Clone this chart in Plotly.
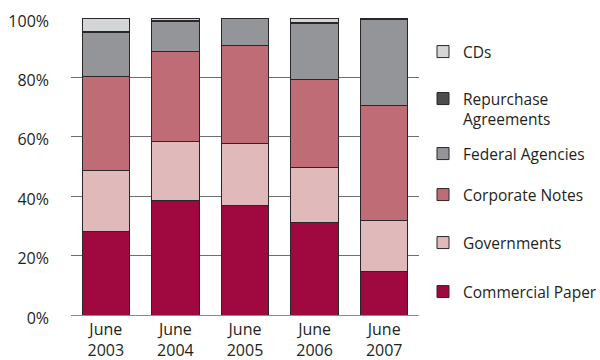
import plotly.graph_objects as go

# Portfolio composition by fiscal year-end (percent of total)
periods = ["June<br>2003", "June<br>2004", "June<br>2005", "June<br>2006", "June<br>2007"]

commercial_paper = [28.2, 38.4, 36.9, 31.2, 14.8]
governments = [20.5, 20.0, 20.9, 18.5, 17.0]
corporate_notes = [31.7, 30.2, 32.9, 29.7, 38.8]
federal_agencies = [14.7, 10.3, 9.3, 18.9, 28.9]
repurchase_agreements = [0.5, 0.1, 0.0, 0.3, 0.5]
cds = [4.4, 1.0, 0.0, 1.4, 0.0]

tick_vals = [0, 20, 40, 60, 80, 100]
tick_text = ["0%", "20%", "40%", "60%", "80%", "100%"]

series = [
    ("Commercial Paper", commercial_paper, "#A0093F"),
    ("Governments", governments, "#E0B9BB"),
    ("Corporate Notes", corporate_notes, "#C06C76"),
    ("Federal Agencies", federal_agencies, "#939598"),
    ("Repurchase<br>Agreements", repurchase_agreements, "#4D4D4F"),
    ("CDs", cds, "#D4D5D7"),
]

# each legend entry gets its own legend box so the spacing can be set freely
legend_ids = ["legend6", "legend5", "legend4", "legend3", "legend2", "legend"]
legend_y = [292, 243, 195, 154, 109, 52]  # pixel centres from the top

FONT = "'Open Sans', 'Noto Sans', sans-serif"
LEFT, RIGHT, TOP, BOTTOM = 71, 419, 18, 315

fig = go.Figure()
for (name, vals, color), lid in zip(series, legend_ids):
    fig.add_trace(go.Bar(
        x=periods, y=vals, name=name, legend=lid,
        marker=dict(color=color, line=dict(color="#2b2728", width=1)),
    ))

layout_legends = {}
for lid, py in zip(legend_ids, legend_y):
    layout_legends[lid] = dict(
        x=(423 - LEFT) / (RIGHT - LEFT), xanchor="left",
        y=(BOTTOM - py) / (BOTTOM - TOP), yanchor="middle",
        bgcolor="rgba(0,0,0,0)", borderwidth=0,
        font=dict(family=FONT, size=15.5, color="#231F20"),
        itemclick=False, valign="top",
    )

fig.update_layout(
    barmode="stack",
    bargap=0.32,
    width=600, height=360,
    margin=dict(l=LEFT, r=600 - RIGHT, t=TOP, b=360 - BOTTOM, autoexpand=False),
    paper_bgcolor="white", plot_bgcolor="white",
    font=dict(family=FONT, size=16, color="#231F20"),
    showlegend=True,
    **layout_legends,
)
fig.update_xaxes(showline=False, showgrid=False, ticks="", tickfont=dict(size=16),
                 ticklabelstandoff=3, automargin=False)
fig.update_yaxes(
    range=[0, 100], tickvals=tick_vals, ticktext=tick_text,
    showgrid=True, gridcolor="#6e6e6e", gridwidth=1,
    zeroline=True, zerolinecolor="#8a8a8a", zerolinewidth=1,
    showline=False, ticks="", ticklabelstandoff=21, ticklabelshift=3,
    tickfont=dict(size=16), automargin=False,
)

fig.write_html("out.html")
